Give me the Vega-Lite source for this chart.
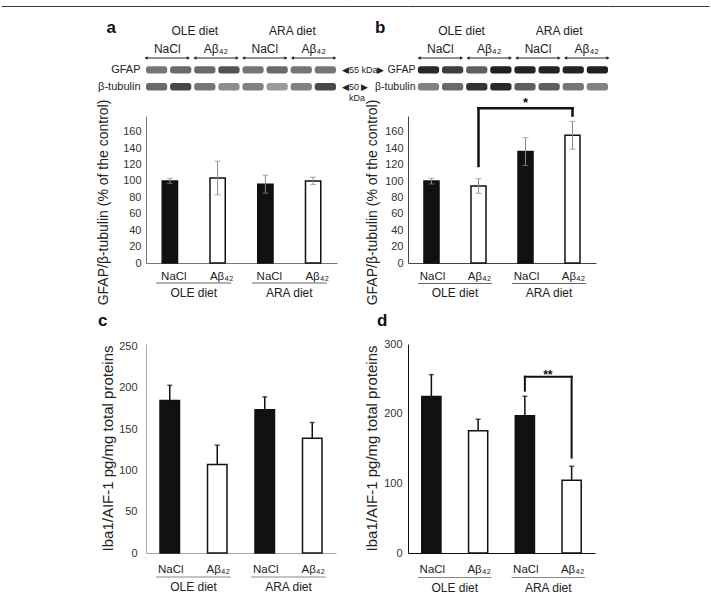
{
"$schema": "https://vega.github.io/schema/vega-lite/v6.json",
"background": "white",
"padding": {"left": 0, "top": 5, "right": 0, "bottom": 0},
"columns": 5,
"spacing": 0,
"bounds": "flush",
"align": "each",
"center": true,
"config": {
  "font": "Liberation Sans",
  "view": {"stroke": null},
  "axis": {"labelFont": "Liberation Sans", "titleFont": "Liberation Sans", "grid": false, "labelOverlap": false},
  "text": {"font": "Liberation Sans"},
  "title": {"font": "Liberation Sans"}
},
"datasets": {
  "diets": [{"diet": "OLE diet"}, {"diet": "ARA diet"}],
  "pairs": [
    {"pair": "OLE NaCl", "label": "NaCl"},
    {"pair": "OLE Aβ", "label": "Aβ₄₂"},
    {"pair": "ARA NaCl", "label": "NaCl"},
    {"pair": "ARA Aβ", "label": "Aβ₄₂"}
  ],
  "blotA": [
    {"protein": "GFAP", "lane": 1, "intensity": 0.5},
    {"protein": "GFAP", "lane": 2, "intensity": 0.55},
    {"protein": "GFAP", "lane": 3, "intensity": 0.55},
    {"protein": "GFAP", "lane": 4, "intensity": 0.65},
    {"protein": "GFAP", "lane": 5, "intensity": 0.5},
    {"protein": "GFAP", "lane": 6, "intensity": 0.55},
    {"protein": "GFAP", "lane": 7, "intensity": 0.5},
    {"protein": "GFAP", "lane": 8, "intensity": 0.5},
    {"protein": "β-tubulin", "lane": 1, "intensity": 0.55},
    {"protein": "β-tubulin", "lane": 2, "intensity": 0.7},
    {"protein": "β-tubulin", "lane": 3, "intensity": 0.5},
    {"protein": "β-tubulin", "lane": 4, "intensity": 0.4},
    {"protein": "β-tubulin", "lane": 5, "intensity": 0.45},
    {"protein": "β-tubulin", "lane": 6, "intensity": 0.35},
    {"protein": "β-tubulin", "lane": 7, "intensity": 0.45},
    {"protein": "β-tubulin", "lane": 8, "intensity": 0.7}
  ],
  "blotB": [
    {"protein": "GFAP", "lane": 1, "intensity": 0.85},
    {"protein": "GFAP", "lane": 2, "intensity": 0.75},
    {"protein": "GFAP", "lane": 3, "intensity": 0.6},
    {"protein": "GFAP", "lane": 4, "intensity": 0.9},
    {"protein": "GFAP", "lane": 5, "intensity": 0.88},
    {"protein": "GFAP", "lane": 6, "intensity": 0.88},
    {"protein": "GFAP", "lane": 7, "intensity": 0.88},
    {"protein": "GFAP", "lane": 8, "intensity": 0.9},
    {"protein": "β-tubulin", "lane": 1, "intensity": 0.45},
    {"protein": "β-tubulin", "lane": 2, "intensity": 0.55},
    {"protein": "β-tubulin", "lane": 3, "intensity": 0.8},
    {"protein": "β-tubulin", "lane": 4, "intensity": 0.85},
    {"protein": "β-tubulin", "lane": 5, "intensity": 0.6},
    {"protein": "β-tubulin", "lane": 6, "intensity": 0.6},
    {"protein": "β-tubulin", "lane": 7, "intensity": 0.5},
    {"protein": "β-tubulin", "lane": 8, "intensity": 0.45}
  ],
  "gfapA": [
    {"group": "OLE|NaCl", "treatment": "NaCl", "mean": 100, "lower": 97, "upper": 103},
    {"group": "OLE|Aβ₄₂", "treatment": "Aβ₄₂", "mean": 103.5, "lower": 83, "upper": 124},
    {"group": "ARA|NaCl", "treatment": "NaCl", "mean": 96, "lower": 85, "upper": 107},
    {"group": "ARA|Aβ₄₂", "treatment": "Aβ₄₂", "mean": 100, "lower": 95.5, "upper": 104.5}
  ],
  "gfapB": [
    {"group": "OLE|NaCl", "treatment": "NaCl", "mean": 100, "lower": 96.5, "upper": 103.5},
    {"group": "OLE|Aβ₄₂", "treatment": "Aβ₄₂", "mean": 94, "lower": 85, "upper": 103},
    {"group": "ARA|NaCl", "treatment": "NaCl", "mean": 136, "lower": 119, "upper": 153},
    {"group": "ARA|Aβ₄₂", "treatment": "Aβ₄₂", "mean": 156, "lower": 139, "upper": 173}
  ],
  "ibaC": [
    {"group": "OLE|NaCl", "treatment": "NaCl", "mean": 184.5, "upper": 203},
    {"group": "OLE|Aβ₄₂", "treatment": "Aβ₄₂", "mean": 107, "upper": 130.5},
    {"group": "ARA|NaCl", "treatment": "NaCl", "mean": 173.5, "upper": 189},
    {"group": "ARA|Aβ₄₂", "treatment": "Aβ₄₂", "mean": 139, "upper": 158}
  ],
  "ibaD": [
    {"group": "OLE|NaCl", "treatment": "NaCl", "mean": 224.5, "upper": 256},
    {"group": "OLE|Aβ₄₂", "treatment": "Aβ₄₂", "mean": 175.5, "upper": 192},
    {"group": "ARA|NaCl", "treatment": "NaCl", "mean": 197, "upper": 225},
    {"group": "ARA|Aβ₄₂", "treatment": "Aβ₄₂", "mean": 104.5, "upper": 124.5}
  ]
},
"concat": [
  {"width": 145, "height": 25, "view": {"stroke": "#3a3a3a", "strokeWidth": 1, "strokeDash": [145, 220]}, "data": {"values": []}, "mark": "point"},
  {"width": 203, "height": 25, "view": {"stroke": "#3a3a3a", "strokeWidth": 1, "strokeDash": [203, 280]}, "data": {"values": []}, "mark": "point"},
  {"width": 59, "height": 25, "view": {"stroke": "#3a3a3a", "strokeWidth": 1, "strokeDash": [59, 130]}, "data": {"values": []}, "mark": "point"},
  {"width": 200, "height": 25, "view": {"stroke": "#3a3a3a", "strokeWidth": 1, "strokeDash": [200, 280]}, "data": {"values": []}, "mark": "point"},
  {"width": 101, "height": 25, "view": {"stroke": "#3a3a3a", "strokeWidth": 1, "strokeDash": [101, 170]}, "data": {"values": []}, "mark": "point"},

  {"width": 1, "height": 1, "data": {"values": []}, "mark": "point"},
  {
    "width": 203, "height": 27,
    "resolve": {"scale": {"x": "independent"}},
    "layer": [
      {"data": {"values": [{"panel": "a"}]}, "mark": {"type": "text", "fontSize": 17, "fontWeight": "bold", "align": "left", "baseline": "alphabetic", "dx": -141, "dy": -11.8, "color": "#111"},
       "encoding": {"text": {"field": "panel"}}},
      {"data": {"name": "diets"}, "mark": {"type": "text", "fontSize": 12, "dy": -13.5, "color": "#222"},
       "encoding": {"x": {"field": "diet", "type": "nominal", "scale": {"type": "band", "domain": ["OLE diet", "ARA diet"], "paddingInner": 0, "paddingOuter": 0.04, "align": 0}, "axis": null}, "text": {"field": "diet"}}},
      {"data": {"name": "pairs"}, "mark": {"type": "text", "fontSize": 12, "dy": 4.5, "color": "#222"},
       "encoding": {"x": {"field": "pair", "type": "nominal", "scale": {"type": "band", "domain": ["OLE NaCl", "OLE Aβ", "ARA NaCl", "ARA Aβ"], "paddingInner": 0.13, "paddingOuter": 0.145, "align": 0}, "axis": null}, "text": {"field": "label"}}},
      {"data": {"name": "pairs"}, "mark": {"type": "rule", "color": "#222", "strokeWidth": 1, "yOffset": 13.5},
       "encoding": {"x": {"field": "pair", "type": "nominal", "bandPosition": 0, "scale": {"type": "band", "domain": ["OLE NaCl", "OLE Aβ", "ARA NaCl", "ARA Aβ"], "paddingInner": 0.13, "paddingOuter": 0.145, "align": 0}, "axis": null}, "x2": {"field": "pair", "bandPosition": 1}}},
      {"data": {"name": "pairs"}, "mark": {"type": "point", "shape": "triangle-left", "filled": true, "size": 14, "color": "#222", "opacity": 1, "yOffset": 13.5},
       "encoding": {"x": {"field": "pair", "type": "nominal", "bandPosition": 0, "scale": {"type": "band", "domain": ["OLE NaCl", "OLE Aβ", "ARA NaCl", "ARA Aβ"], "paddingInner": 0.13, "paddingOuter": 0.145, "align": 0}, "axis": null}}},
      {"data": {"name": "pairs"}, "mark": {"type": "point", "shape": "triangle-right", "filled": true, "size": 14, "color": "#222", "opacity": 1, "yOffset": 13.5},
       "encoding": {"x": {"field": "pair", "type": "nominal", "bandPosition": 1, "scale": {"type": "band", "domain": ["OLE NaCl", "OLE Aβ", "ARA NaCl", "ARA Aβ"], "paddingInner": 0.13, "paddingOuter": 0.145, "align": 0}, "axis": null}}}
    ]
  },
  {"width": 1, "height": 1, "data": {"values": []}, "mark": "point"},
  {
    "width": 200, "height": 27,
    "resolve": {"scale": {"x": "independent"}},
    "layer": [
      {"data": {"values": [{"panel": "b"}]}, "mark": {"type": "text", "fontSize": 17, "fontWeight": "bold", "align": "left", "baseline": "alphabetic", "dx": -133, "dy": -11.8, "color": "#111"},
       "encoding": {"text": {"field": "panel"}}},
      {"data": {"name": "diets"}, "mark": {"type": "text", "fontSize": 12, "dy": -13.5, "color": "#222"},
       "encoding": {"x": {"field": "diet", "type": "nominal", "scale": {"type": "band", "domain": ["OLE diet", "ARA diet"], "paddingInner": 0, "paddingOuter": 0.0246, "align": 1}, "axis": null}, "text": {"field": "diet"}}},
      {"data": {"name": "pairs"}, "mark": {"type": "text", "fontSize": 12, "dy": 4.5, "color": "#222"},
       "encoding": {"x": {"field": "pair", "type": "nominal", "scale": {"type": "band", "domain": ["OLE NaCl", "OLE Aβ", "ARA NaCl", "ARA Aβ"], "paddingInner": 0.13, "paddingOuter": 0.114, "align": 1}, "axis": null}, "text": {"field": "label"}}},
      {"data": {"name": "pairs"}, "mark": {"type": "rule", "color": "#222", "strokeWidth": 1, "yOffset": 13.5},
       "encoding": {"x": {"field": "pair", "type": "nominal", "bandPosition": 0, "scale": {"type": "band", "domain": ["OLE NaCl", "OLE Aβ", "ARA NaCl", "ARA Aβ"], "paddingInner": 0.13, "paddingOuter": 0.114, "align": 1}, "axis": null}, "x2": {"field": "pair", "bandPosition": 1}}},
      {"data": {"name": "pairs"}, "mark": {"type": "point", "shape": "triangle-left", "filled": true, "size": 14, "color": "#222", "opacity": 1, "yOffset": 13.5},
       "encoding": {"x": {"field": "pair", "type": "nominal", "bandPosition": 0, "scale": {"type": "band", "domain": ["OLE NaCl", "OLE Aβ", "ARA NaCl", "ARA Aβ"], "paddingInner": 0.13, "paddingOuter": 0.114, "align": 1}, "axis": null}}},
      {"data": {"name": "pairs"}, "mark": {"type": "point", "shape": "triangle-right", "filled": true, "size": 14, "color": "#222", "opacity": 1, "yOffset": 13.5},
       "encoding": {"x": {"field": "pair", "type": "nominal", "bandPosition": 1, "scale": {"type": "band", "domain": ["OLE NaCl", "OLE Aβ", "ARA NaCl", "ARA Aβ"], "paddingInner": 0.13, "paddingOuter": 0.114, "align": 1}, "axis": null}}}
    ]
  },
  {"width": 1, "height": 1, "data": {"values": []}, "mark": "point"},

  {"width": 1, "height": 1, "data": {"values": []}, "mark": "point"},
  {
    "width": 203, "height": 58,
    "layer": [
      {"data": {"name": "blotA"}, "mark": {"type": "rect", "cornerRadius": 2.5},
       "encoding": {
         "x": {"field": "lane", "type": "ordinal", "scale": {"paddingInner": 0.12, "paddingOuter": 0.27, "align": 0}, "axis": null},
         "y": {"field": "protein", "type": "nominal", "scale": {"domain": ["GFAP", "β-tubulin"], "paddingInner": 0.5625, "paddingOuter": 1.09375, "align": 0.243}, "axis": {"title": null, "domain": false, "ticks": false, "labelFontSize": 11, "labelPadding": 6, "labelColor": "#222"}},
         "color": {"field": "intensity", "type": "quantitative", "scale": {"domain": [0, 1], "range": ["#f4f4f4", "#0a0a0a"]}, "legend": null}}},
      {"data": {"values": [{"protein": "GFAP", "marker": "◀55 kDa▶"}, {"protein": "β-tubulin", "marker": "◀50 ▶"}]},
       "mark": {"type": "text", "align": "left", "fontSize": 9, "dx": 6, "color": "#222"},
       "encoding": {"x": {"datum": 8, "type": "ordinal", "bandPosition": 1}, "y": {"field": "protein", "type": "nominal"}, "text": {"field": "marker"}}},
      {"data": {"values": [{"protein": "β-tubulin", "marker": "kDa"}]},
       "mark": {"type": "text", "align": "left", "fontSize": 9, "dx": 13, "dy": 11, "color": "#222"},
       "encoding": {"x": {"datum": 8, "type": "ordinal", "bandPosition": 1}, "y": {"field": "protein", "type": "nominal"}, "text": {"field": "marker"}}}
    ]
  },
  {"width": 1, "height": 1, "data": {"values": []}, "mark": "point"},
  {
    "width": 200, "height": 58,
    "data": {"name": "blotB"},
    "mark": {"type": "rect", "cornerRadius": 2.5},
    "encoding": {
      "x": {"field": "lane", "type": "ordinal", "scale": {"paddingInner": 0.12, "paddingOuter": 0.205, "align": 1}, "axis": null},
      "y": {"field": "protein", "type": "nominal", "scale": {"domain": ["GFAP", "β-tubulin"], "paddingInner": 0.5625, "paddingOuter": 1.09375, "align": 0.243}, "axis": {"title": null, "domain": false, "ticks": false, "labelFontSize": 10.5, "labelPadding": -7, "labelColor": "#222"}},
      "color": {"field": "intensity", "type": "quantitative", "scale": {"domain": [0, 1], "range": ["#f4f4f4", "#0a0a0a"]}, "legend": null}
    }
  },
  {"width": 1, "height": 1, "data": {"values": []}, "mark": "point"},

  {"width": 1, "height": 1, "data": {"values": []}, "mark": "point"},
  {
    "width": 191, "height": 147,
    "layer": [
      {"data": {"name": "gfapA"}, "mark": {"type": "bar", "stroke": "#111", "strokeWidth": 1.5},
       "encoding": {
         "x": {"field": "group", "type": "nominal", "title": null, "scale": {"domain": ["OLE|NaCl", "OLE|Aβ₄₂", "ARA|NaCl", "ARA|Aβ₄₂"], "paddingInner": 0.68, "paddingOuter": 0.34},
               "axis": {"labelExpr": "split(datum.value,'|')[1]", "ticks": false, "domainColor": "#777", "labelAngle": 0, "labelFontSize": 11.5, "labelColor": "#222", "labelPadding": 7, "labelOffset": 4}},
         "y": {"field": "mean", "type": "quantitative", "title": "GFAP/β-tubulin (% of the control)", "scale": {"domain": [0, 179], "nice": false},
               "axis": {"values": [0, 20, 40, 60, 80, 100, 120, 140, 160], "tickCount": 9, "ticks": false, "domainColor": "#777", "labelFontSize": 11, "labelColor": "#333", "labelPadding": 5, "labelOverlap": false,
                        "titleFontSize": 14, "titleFontWeight": "normal", "titleColor": "#222", "titleX": -43, "titleY": 86, "titleAngle": -90, "titleAlign": "center", "titleBaseline": "middle"}},
         "fill": {"field": "treatment", "type": "nominal", "scale": {"domain": ["NaCl", "Aβ₄₂"], "range": ["#111111", "#ffffff"]}, "legend": null}}},
      {"data": {"name": "gfapA"}, "mark": {"type": "rule", "color": "#8a8a8a", "strokeWidth": 1},
       "encoding": {"x": {"field": "group", "type": "nominal", "title": null}, "y": {"field": "lower", "type": "quantitative", "title": "GFAP/β-tubulin (% of the control)",
               "axis": {"values": [0, 20, 40, 60, 80, 100, 120, 140, 160], "tickCount": 9, "ticks": false, "domainColor": "#777", "labelFontSize": 11, "labelColor": "#333", "labelPadding": 5, "labelOverlap": false,
                        "titleFontSize": 14, "titleFontWeight": "normal", "titleColor": "#222", "titleX": -43, "titleY": 86, "titleAngle": -90, "titleAlign": "center", "titleBaseline": "middle"}}, "y2": {"field": "upper"}}},
      {"data": {"name": "gfapA"}, "mark": {"type": "tick", "orient": "horizontal", "color": "#8a8a8a", "size": 6, "thickness": 1},
       "encoding": {"x": {"field": "group", "type": "nominal", "title": null}, "y": {"field": "lower", "type": "quantitative", "title": "GFAP/β-tubulin (% of the control)",
               "axis": {"values": [0, 20, 40, 60, 80, 100, 120, 140, 160], "tickCount": 9, "ticks": false, "domainColor": "#777", "labelFontSize": 11, "labelColor": "#333", "labelPadding": 5, "labelOverlap": false,
                        "titleFontSize": 14, "titleFontWeight": "normal", "titleColor": "#222", "titleX": -43, "titleY": 86, "titleAngle": -90, "titleAlign": "center", "titleBaseline": "middle"}}}},
      {"data": {"name": "gfapA"}, "mark": {"type": "tick", "orient": "horizontal", "color": "#8a8a8a", "size": 6, "thickness": 1},
       "encoding": {"x": {"field": "group", "type": "nominal", "title": null}, "y": {"field": "upper", "type": "quantitative", "title": "GFAP/β-tubulin (% of the control)",
               "axis": {"values": [0, 20, 40, 60, 80, 100, 120, 140, 160], "tickCount": 9, "ticks": false, "domainColor": "#777", "labelFontSize": 11, "labelColor": "#333", "labelPadding": 5, "labelOverlap": false,
                        "titleFontSize": 14, "titleFontWeight": "normal", "titleColor": "#222", "titleX": -43, "titleY": 86, "titleAngle": -90, "titleAlign": "center", "titleBaseline": "middle"}}}}
    ]
  },
  {"width": 1, "height": 1, "data": {"values": []}, "mark": "point"},
  {
    "width": 188, "height": 147,
    "layer": [
      {"data": {"name": "gfapB"}, "mark": {"type": "bar", "stroke": "#111", "strokeWidth": 1.5},
       "encoding": {
         "x": {"field": "group", "type": "nominal", "title": null, "scale": {"domain": ["OLE|NaCl", "OLE|Aβ₄₂", "ARA|NaCl", "ARA|Aβ₄₂"], "paddingInner": 0.68, "paddingOuter": 0.34},
               "axis": {"labelExpr": "split(datum.value,'|')[1]", "ticks": false, "domainColor": "#444", "labelAngle": 0, "labelFontSize": 11.5, "labelColor": "#222", "labelPadding": 7, "labelOffset": 1}},
         "y": {"field": "mean", "type": "quantitative", "title": "GFAP/β-tubulin (% of the control)", "scale": {"domain": [0, 179.5], "nice": false},
               "axis": {"values": [0, 20, 40, 60, 80, 100, 120, 140, 160], "tickCount": 9, "ticks": false, "domainColor": "#444", "labelFontSize": 11, "labelColor": "#333", "labelPadding": 5, "labelOverlap": false,
                        "titleFontSize": 14, "titleFontWeight": "normal", "titleColor": "#222", "titleX": -36, "titleY": 86, "titleAngle": -90, "titleAlign": "center", "titleBaseline": "middle"}},
         "fill": {"field": "treatment", "type": "nominal", "scale": {"domain": ["NaCl", "Aβ₄₂"], "range": ["#111111", "#ffffff"]}, "legend": null}}},
      {"data": {"name": "gfapB"}, "mark": {"type": "rule", "color": "#8a8a8a", "strokeWidth": 1},
       "encoding": {"x": {"field": "group", "type": "nominal", "title": null}, "y": {"field": "lower", "type": "quantitative", "title": "GFAP/β-tubulin (% of the control)",
               "axis": {"values": [0, 20, 40, 60, 80, 100, 120, 140, 160], "tickCount": 9, "ticks": false, "domainColor": "#444", "labelFontSize": 11, "labelColor": "#333", "labelPadding": 5, "labelOverlap": false,
                        "titleFontSize": 14, "titleFontWeight": "normal", "titleColor": "#222", "titleX": -36, "titleY": 86, "titleAngle": -90, "titleAlign": "center", "titleBaseline": "middle"}}, "y2": {"field": "upper"}}},
      {"data": {"name": "gfapB"}, "mark": {"type": "tick", "orient": "horizontal", "color": "#8a8a8a", "size": 6, "thickness": 1},
       "encoding": {"x": {"field": "group", "type": "nominal", "title": null}, "y": {"field": "lower", "type": "quantitative", "title": "GFAP/β-tubulin (% of the control)",
               "axis": {"values": [0, 20, 40, 60, 80, 100, 120, 140, 160], "tickCount": 9, "ticks": false, "domainColor": "#444", "labelFontSize": 11, "labelColor": "#333", "labelPadding": 5, "labelOverlap": false,
                        "titleFontSize": 14, "titleFontWeight": "normal", "titleColor": "#222", "titleX": -36, "titleY": 86, "titleAngle": -90, "titleAlign": "center", "titleBaseline": "middle"}}}},
      {"data": {"name": "gfapB"}, "mark": {"type": "tick", "orient": "horizontal", "color": "#8a8a8a", "size": 6, "thickness": 1},
       "encoding": {"x": {"field": "group", "type": "nominal", "title": null}, "y": {"field": "upper", "type": "quantitative", "title": "GFAP/β-tubulin (% of the control)",
               "axis": {"values": [0, 20, 40, 60, 80, 100, 120, 140, 160], "tickCount": 9, "ticks": false, "domainColor": "#444", "labelFontSize": 11, "labelColor": "#333", "labelPadding": 5, "labelOverlap": false,
                        "titleFontSize": 14, "titleFontWeight": "normal", "titleColor": "#222", "titleX": -36, "titleY": 86, "titleAngle": -90, "titleAlign": "center", "titleBaseline": "middle"}}}},
      {"data": {"values": [{"from": "OLE|Aβ₄₂", "low": 118.5, "high": 189}, {"from": "ARA|Aβ₄₂", "low": 180, "high": 189}]},
       "mark": {"type": "rule", "color": "#111", "strokeWidth": 2.5, "strokeCap": "square"},
       "encoding": {"x": {"field": "from", "type": "nominal", "title": null}, "y": {"field": "low", "type": "quantitative", "title": "GFAP/β-tubulin (% of the control)",
               "axis": {"values": [0, 20, 40, 60, 80, 100, 120, 140, 160], "tickCount": 9, "ticks": false, "domainColor": "#444", "labelFontSize": 11, "labelColor": "#333", "labelPadding": 5, "labelOverlap": false,
                        "titleFontSize": 14, "titleFontWeight": "normal", "titleColor": "#222", "titleX": -36, "titleY": 86, "titleAngle": -90, "titleAlign": "center", "titleBaseline": "middle"}}, "y2": {"field": "high"}}},
      {"data": {"values": [{"from": "OLE|Aβ₄₂", "to": "ARA|Aβ₄₂", "level": 189}]},
       "mark": {"type": "rule", "color": "#111", "strokeWidth": 2.5, "strokeCap": "square"},
       "encoding": {"x": {"field": "from", "type": "nominal", "title": null}, "x2": {"field": "to"}, "y": {"field": "level", "type": "quantitative", "title": "GFAP/β-tubulin (% of the control)",
               "axis": {"values": [0, 20, 40, 60, 80, 100, 120, 140, 160], "tickCount": 9, "ticks": false, "domainColor": "#444", "labelFontSize": 11, "labelColor": "#333", "labelPadding": 5, "labelOverlap": false,
                        "titleFontSize": 14, "titleFontWeight": "normal", "titleColor": "#222", "titleX": -36, "titleY": 86, "titleAngle": -90, "titleAlign": "center", "titleBaseline": "middle"}}}},
      {"data": {"values": [{"from": "ARA|NaCl", "level": 189, "sig": "*"}]},
       "mark": {"type": "text", "fontSize": 13, "fontWeight": "bold", "baseline": "alphabetic", "dy": -1, "color": "#111"},
       "encoding": {"x": {"field": "from", "type": "nominal", "title": null}, "y": {"field": "level", "type": "quantitative", "title": "GFAP/β-tubulin (% of the control)",
               "axis": {"values": [0, 20, 40, 60, 80, 100, 120, 140, 160], "tickCount": 9, "ticks": false, "domainColor": "#444", "labelFontSize": 11, "labelColor": "#333", "labelPadding": 5, "labelOverlap": false,
                        "titleFontSize": 14, "titleFontWeight": "normal", "titleColor": "#222", "titleX": -36, "titleY": 86, "titleAngle": -90, "titleAlign": "center", "titleBaseline": "middle"}}, "text": {"field": "sig"}}}
    ]
  },
  {"width": 1, "height": 1, "data": {"values": []}, "mark": "point"},

  {"width": 1, "height": 1, "data": {"values": []}, "mark": "point"},
  {
    "width": 191, "height": 81,
    "layer": [
      {"data": {"values": [{"panel": "c"}]}, "mark": {"type": "text", "fontSize": 17, "fontWeight": "bold", "align": "left", "baseline": "alphabetic", "dx": -143.5, "dy": 22.5, "color": "#111"},
       "encoding": {"text": {"field": "panel"}}},
      {"data": {"name": "diets"}, "mark": {"type": "rule", "color": "#666", "strokeWidth": 1, "yOffset": -20.5},
       "encoding": {"x": {"field": "diet", "type": "nominal", "bandPosition": 0, "scale": {"type": "band", "domain": ["OLE diet", "ARA diet"], "paddingInner": 0.215, "paddingOuter": 0.1075}, "axis": null}, "x2": {"field": "diet", "bandPosition": 1}}},
      {"data": {"name": "diets"}, "mark": {"type": "text", "fontSize": 12, "dy": -10.5, "color": "#222"},
       "encoding": {"x": {"field": "diet", "type": "nominal", "axis": null}, "text": {"field": "diet"}}}
    ]
  },
  {"width": 1, "height": 1, "data": {"values": []}, "mark": "point"},
  {
    "width": 188, "height": 81,
    "layer": [
      {"data": {"values": [{"panel": "d"}]}, "mark": {"type": "text", "fontSize": 17, "fontWeight": "bold", "align": "left", "baseline": "alphabetic", "dx": -125, "dy": 22.5, "color": "#111"},
       "encoding": {"text": {"field": "panel"}}},
      {"data": {"name": "diets"}, "mark": {"type": "rule", "color": "#666", "strokeWidth": 1, "yOffset": -20},
       "encoding": {"x": {"field": "diet", "type": "nominal", "bandPosition": 0, "scale": {"type": "band", "domain": ["OLE diet", "ARA diet"], "paddingInner": 0.215, "paddingOuter": 0.1075}, "axis": null}, "x2": {"field": "diet", "bandPosition": 1}}},
      {"data": {"name": "diets"}, "mark": {"type": "text", "fontSize": 12, "dy": -10.5, "color": "#222"},
       "encoding": {"x": {"field": "diet", "type": "nominal", "axis": null}, "text": {"field": "diet"}}}
    ]
  },
  {"width": 1, "height": 1, "data": {"values": []}, "mark": "point"},

  {"width": 1, "height": 1, "data": {"values": []}, "mark": "point"},
  {
    "width": 190, "height": 209,
    "layer": [
      {"data": {"name": "ibaC"}, "mark": {"type": "bar", "stroke": "#111", "strokeWidth": 1.5},
       "encoding": {
         "x": {"field": "group", "type": "nominal", "title": null, "scale": {"domain": ["OLE|NaCl", "OLE|Aβ₄₂", "ARA|NaCl", "ARA|Aβ₄₂"], "paddingInner": 0.59, "paddingOuter": 0.295},
               "axis": {"labelExpr": "split(datum.value,'|')[1]", "ticks": false, "domainColor": "#aaa", "labelAngle": 0, "labelFontSize": 11.5, "labelColor": "#222", "labelPadding": 10, "labelOffset": 1}},
         "y": {"field": "mean", "type": "quantitative", "title": "Iba1/AIF-1 pg/mg total proteins", "scale": {"domain": [0, 253], "nice": false},
               "axis": {"values": [0, 50, 100, 150, 200, 250], "ticks": false, "domainColor": "#aaa", "labelFontSize": 11, "labelColor": "#333", "labelPadding": 9,
                        "titleFontSize": 15, "titleFontWeight": "normal", "titleColor": "#222", "titleX": -39, "titleY": 104, "titleAngle": -90, "titleAlign": "center", "titleBaseline": "middle"}},
         "fill": {"field": "treatment", "type": "nominal", "scale": {"domain": ["NaCl", "Aβ₄₂"], "range": ["#111111", "#ffffff"]}, "legend": null}}},
      {"data": {"name": "ibaC"}, "mark": {"type": "rule", "color": "#111", "strokeWidth": 1.5},
       "encoding": {"x": {"field": "group", "type": "nominal", "title": null}, "y": {"field": "mean", "type": "quantitative", "title": "Iba1/AIF-1 pg/mg total proteins"}, "y2": {"field": "upper"}}},
      {"data": {"name": "ibaC"}, "mark": {"type": "tick", "orient": "horizontal", "color": "#111", "size": 5, "thickness": 1.5},
       "encoding": {"x": {"field": "group", "type": "nominal", "title": null}, "y": {"field": "upper", "type": "quantitative", "title": "Iba1/AIF-1 pg/mg total proteins"}}}
    ]
  },
  {"width": 1, "height": 1, "data": {"values": []}, "mark": "point"},
  {
    "width": 187, "height": 209,
    "layer": [
      {"data": {"name": "ibaD"}, "mark": {"type": "bar", "stroke": "#111", "strokeWidth": 1.5},
       "encoding": {
         "x": {"field": "group", "type": "nominal", "title": null, "scale": {"domain": ["OLE|NaCl", "OLE|Aβ₄₂", "ARA|NaCl", "ARA|Aβ₄₂"], "paddingInner": 0.59, "paddingOuter": 0.295},
               "axis": {"labelExpr": "split(datum.value,'|')[1]", "ticks": false, "domainColor": "#111", "labelAngle": 0, "labelFontSize": 11.5, "labelColor": "#222", "labelPadding": 10, "labelOffset": 1}},
         "y": {"field": "mean", "type": "quantitative", "title": "Iba1/AIF-1 pg/mg total proteins", "scale": {"domain": [0, 300], "nice": false},
               "axis": {"values": [0, 50, 100, 150, 200, 250, 300], "ticks": false, "domainColor": "#111", "labelFontSize": 11, "labelColor": "#333", "labelPadding": 6,
                        "titleFontSize": 15, "titleFontWeight": "normal", "titleColor": "#222", "titleX": -37, "titleY": 104, "titleAngle": -90, "titleAlign": "center", "titleBaseline": "middle"}},
         "fill": {"field": "treatment", "type": "nominal", "scale": {"domain": ["NaCl", "Aβ₄₂"], "range": ["#111111", "#ffffff"]}, "legend": null}}},
      {"data": {"name": "ibaD"}, "mark": {"type": "rule", "color": "#111", "strokeWidth": 1.5},
       "encoding": {"x": {"field": "group", "type": "nominal", "title": null}, "y": {"field": "mean", "type": "quantitative", "title": "Iba1/AIF-1 pg/mg total proteins"}, "y2": {"field": "upper"}}},
      {"data": {"name": "ibaD"}, "mark": {"type": "tick", "orient": "horizontal", "color": "#111", "size": 5, "thickness": 1.5},
       "encoding": {"x": {"field": "group", "type": "nominal", "title": null}, "y": {"field": "upper", "type": "quantitative", "title": "Iba1/AIF-1 pg/mg total proteins"}}},
      {"data": {"values": [{"from": "ARA|NaCl", "low": 233, "high": 253}, {"from": "ARA|Aβ₄₂", "low": 137, "high": 253}]},
       "mark": {"type": "rule", "color": "#111", "strokeWidth": 2, "strokeCap": "square"},
       "encoding": {"x": {"field": "from", "type": "nominal", "title": null}, "y": {"field": "low", "type": "quantitative", "title": "Iba1/AIF-1 pg/mg total proteins"}, "y2": {"field": "high"}}},
      {"data": {"values": [{"from": "ARA|NaCl", "to": "ARA|Aβ₄₂", "level": 253}]},
       "mark": {"type": "rule", "color": "#111", "strokeWidth": 2, "strokeCap": "square"},
       "encoding": {"x": {"field": "from", "type": "nominal", "title": null}, "x2": {"field": "to"}, "y": {"field": "level", "type": "quantitative", "title": "Iba1/AIF-1 pg/mg total proteins"}}},
      {"data": {"values": [{"from": "ARA|NaCl", "level": 253, "sig": "**"}]},
       "mark": {"type": "text", "fontSize": 12, "fontWeight": "bold", "baseline": "alphabetic", "dx": 23, "dy": 2, "color": "#111"},
       "encoding": {"x": {"field": "from", "type": "nominal", "title": null}, "y": {"field": "level", "type": "quantitative", "title": "Iba1/AIF-1 pg/mg total proteins"}, "text": {"field": "sig"}}}
    ]
  },
  {"width": 1, "height": 1, "data": {"values": []}, "mark": "point"},

  {"width": 1, "height": 1, "data": {"values": []}, "mark": "point"},
  {
    "width": 190, "height": 43,
    "data": {"name": "diets"},
    "layer": [
      {"mark": {"type": "rule", "color": "#888", "strokeWidth": 1, "yOffset": 2.5},
       "encoding": {"x": {"field": "diet", "type": "nominal", "bandPosition": 0, "scale": {"type": "band", "domain": ["OLE diet", "ARA diet"], "paddingInner": 0.215, "paddingOuter": 0.1075}, "axis": null}, "x2": {"field": "diet", "bandPosition": 1}}},
      {"mark": {"type": "text", "fontSize": 12, "dy": 12.5, "color": "#222"},
       "encoding": {"x": {"field": "diet", "type": "nominal", "axis": null}, "text": {"field": "diet"}}}
    ]
  },
  {"width": 1, "height": 1, "data": {"values": []}, "mark": "point"},
  {
    "width": 187, "height": 43,
    "data": {"name": "diets"},
    "layer": [
      {"mark": {"type": "rule", "color": "#888", "strokeWidth": 1, "yOffset": 3},
       "encoding": {"x": {"field": "diet", "type": "nominal", "bandPosition": 0, "scale": {"type": "band", "domain": ["OLE diet", "ARA diet"], "paddingInner": 0.215, "paddingOuter": 0.1075}, "axis": null}, "x2": {"field": "diet", "bandPosition": 1}}},
      {"mark": {"type": "text", "fontSize": 12, "dy": 13, "color": "#222"},
       "encoding": {"x": {"field": "diet", "type": "nominal", "axis": null}, "text": {"field": "diet"}}}
    ]
  },
  {"width": 1, "height": 1, "data": {"values": []}, "mark": "point"}
]
}
